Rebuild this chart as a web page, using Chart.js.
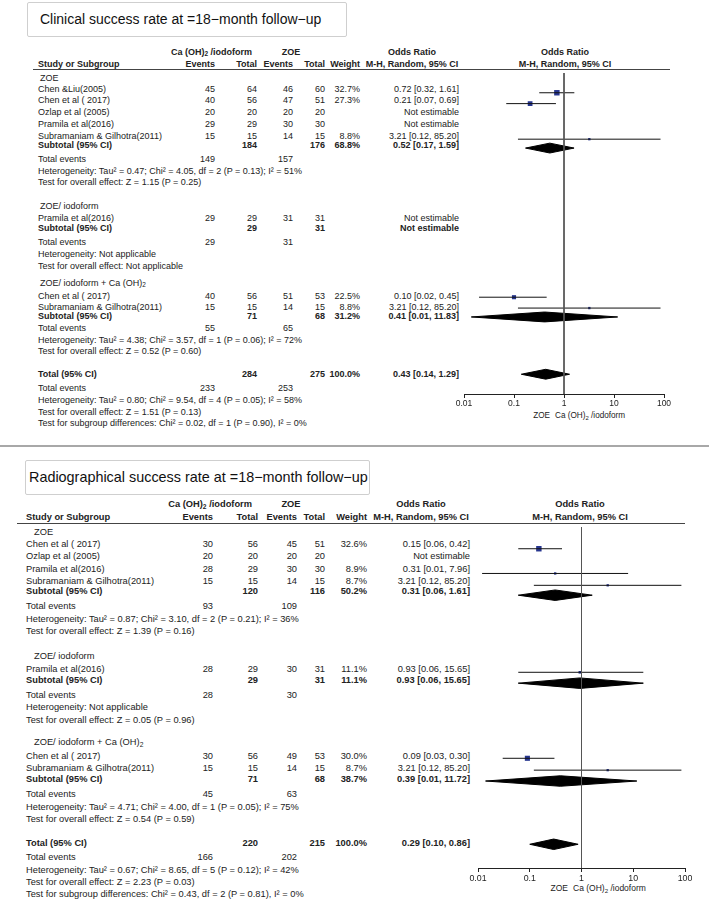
<!DOCTYPE html>
<html>
<head>
<meta charset="utf-8">
<script src="https://cdn.jsdelivr.net/npm/chart.js@4.4.1/dist/chart.umd.min.js"></script>
<style>
html, body { margin: 0; padding: 0; background: #fff; overflow: hidden; }
#page { position: relative; width: 709px; height: 903px; overflow: hidden; }
.t { position: absolute; white-space: nowrap; line-height: 1; color: #222; font-family: "Liberation Sans", Arial, sans-serif; }
.t sub { font-size: 0.72em; line-height: 0; vertical-align: -0.3em; }
.box { position: absolute; border: 1px solid #cfcfcf; border-radius: 2px; }
.rule { position: absolute; height: 0; border-top: 1px solid #444; }
canvas { position: absolute; }
</style>
</head>
<body>
<div id="page"></div>
<script>
// shared labels
const groupNames = ['ZOE', 'ZOE/ iodoform', 'ZOE/ iodoform + Ca (OH)<sub>2</sub>'];
const axisTicks = [0.01, 0.1, 1, 10, 100];

// Clinical success (top)
const clinTitle = 'Clinical success rate at =18\u2212month follow\u2212up';
const clinStudy = ['Chen &Liu(2005)', 'Chen et al ( 2017)', 'Ozlap et al (2005)', 'Pramila et al(2016)', 'Subramaniam & Gilhotra(2011)',
                   'Pramila et al(2016)', 'Chen et al ( 2017)', 'Subramaniam & Gilhotra(2011)'];
const clinGroup = [0, 0, 0, 0, 0, 1, 2, 2];
const clinEvE = [45, 40, 20, 29, 15, 29, 40, 15];
const clinTotE = [64, 56, 20, 29, 15, 29, 56, 15];
const clinEvC = [46, 47, 20, 30, 14, 31, 51, 14];
const clinTotC = [60, 51, 20, 30, 15, 31, 53, 15];
const clinWeight = [32.7, 27.3, null, null, 8.8, null, 22.5, 8.8];
const clinOR = [0.72, 0.21, null, null, 3.21, null, 0.10, 3.21];
const clinLow = [0.32, 0.07, null, null, 0.12, null, 0.02, 0.12];
const clinHigh = [1.61, 0.69, null, null, 85.20, null, 0.45, 85.20];
const clinSubTotE = [184, 29, 71];
const clinSubTotC = [176, 31, 68];
const clinSubWeight = [68.8, null, 31.2];
const clinSubOR = [0.52, null, 0.41];
const clinSubLow = [0.17, null, 0.014];
const clinSubHigh = [1.59, null, 11.83];
const clinSubEvE = [149, 29, 55];
const clinSubEvC = [157, 31, 65];
const clinSubHet = ['Tau\u00b2 = 0.47; Chi\u00b2 = 4.05, df = 2 (P = 0.13); I\u00b2 = 51%', 'Not applicable',
                    'Tau\u00b2 = 4.38; Chi\u00b2 = 3.57, df = 1 (P = 0.06); I\u00b2 = 72%'];
const clinSubZ = ['Z = 1.15 (P = 0.25)', 'Not applicable', 'Z = 0.52 (P = 0.60)'];
const clinAllTot = [284, 275];
const clinAllEv = [233, 253];
const clinAllOR = [0.43, 0.14, 1.29];
const clinAllHet = 'Tau\u00b2 = 0.80; Chi\u00b2 = 9.54, df = 4 (P = 0.05); I\u00b2 = 58%';
const clinAllZ = 'Z = 1.51 (P = 0.13)';
const clinDiff = 'Chi\u00b2 = 0.02, df = 1 (P = 0.90), I\u00b2 = 0%';

// Radiographical success (bottom)
const radTitle = 'Radiographical success rate at =18\u2212month follow\u2212up';
const radStudy = ['Chen et al ( 2017)', 'Ozlap et al (2005)', 'Pramila et al(2016)', 'Subramaniam & Gilhotra(2011)',
                  'Pramila et al(2016)', 'Chen et al ( 2017)', 'Subramaniam & Gilhotra(2011)'];
const radGroup = [0, 0, 0, 0, 1, 2, 2];
const radEvE = [30, 20, 28, 15, 28, 30, 15];
const radTotE = [56, 20, 29, 15, 29, 56, 15];
const radEvC = [45, 20, 30, 14, 30, 49, 14];
const radTotC = [51, 20, 30, 15, 31, 53, 15];
const radWeight = [32.6, null, 8.9, 8.7, 11.1, 30.0, 8.7];
const radOR = [0.15, null, 0.31, 3.21, 0.93, 0.09, 3.21];
const radLow = [0.06, null, 0.012, 0.12, 0.06, 0.03, 0.12];
const radHigh = [0.42, null, 7.96, 85.20, 15.65, 0.30, 85.20];
const radSubTotE = [120, 29, 71];
const radSubTotC = [116, 31, 68];
const radSubWeight = [50.2, 11.1, 38.7];
const radSubOR = [0.31, 0.93, 0.39];
const radSubLow = [0.06, 0.06, 0.014];
const radSubHigh = [1.61, 15.65, 11.72];
const radSubEvE = [93, 28, 45];
const radSubEvC = [109, 30, 63];
const radSubHet = ['Tau\u00b2 = 0.87; Chi\u00b2 = 3.10, df = 2 (P = 0.21); I\u00b2 = 36%', 'Not applicable',
                   'Tau\u00b2 = 4.71; Chi\u00b2 = 4.00, df = 1 (P = 0.05); I\u00b2 = 75%'];
const radSubZ = ['Z = 1.39 (P = 0.16)', 'Z = 0.05 (P = 0.96)', 'Z = 0.54 (P = 0.59)'];
const radAllTot = [220, 215];
const radAllEv = [166, 202];
const radAllOR = [0.29, 0.10, 0.86];
const radAllHet = 'Tau\u00b2 = 0.67; Chi\u00b2 = 8.65, df = 5 (P = 0.12); I\u00b2 = 42%';
const radAllZ = 'Z = 2.23 (P = 0.03)';
const radDiff = 'Chi\u00b2 = 0.43, df = 2 (P = 0.81), I\u00b2 = 0%';

// page positions of each panel (pixels)
const clinLayout = {
    fs: 9, titleFs: 14, box: [27, 2, 345, 35], titleX: 40, titleY: 18.5,
    nameX: 38, groupX: 40, evE: 215, totE: 257, evC: 293, totC: 325, wX: 360, orX: 459,
    hdrGroupE: 252, hdrGroupC: 291, orHdrX: 412, plotHdrX: 565,
    hdr1: 52, hdr2: 64, rule: [33, 670, 69],
    groupY: [78, 206, 283],
    studyY: [89, 100, 112, 124, 136, 218, 296, 307],
    subY: [145, 228, 316], evY: [159, 242, 328], hetY: [171, 254, 340], zY: [182, 266, 351],
    totY: 374, totEvY: 388, totHetY: 400, totZY: 412, diffY: 423,
    axisY: 394, axisLo: 464, axisHi: 664, sideY: 416, zeroX: 564, diamondH: 5
};
const radLayout = {
    fs: 9.3, titleFs: 14.4, box: [25, 460, 368, 493], titleX: 29, titleY: 477,
    nameX: 26, groupX: 34, evE: 213, totE: 258, evC: 297, totC: 325, wX: 367, orX: 470,
    hdrGroupE: 252, hdrGroupC: 291, orHdrX: 421, plotHdrX: 580,
    hdr1: 505, hdr2: 518, rule: [17, 685, 523],
    groupY: [533, 657, 743],
    studyY: [545, 557, 570, 582, 670, 757, 769],
    subY: [592, 681, 780], evY: [607, 696, 795], hetY: [620, 708, 808], zY: [632, 721, 820],
    totY: 844, totEvY: 858, totHetY: 871, totZY: 883, diffY: 895,
    axisY: 868, axisLo: 478, axisHi: 685, sideY: 888, zeroX: 582, diamondH: 5.3
};

const page = document.getElementById('page');
const PAD = 24;

function put(html, x, y, o) {
    o = o || {};
    const d = document.createElement('div');
    d.className = 't';
    d.innerHTML = html;
    d.style.left = x + 'px';
    d.style.top = y + 'px';
    d.style.fontSize = (o.fs || 9) + 'px';
    if (o.bold) d.style.fontWeight = 'bold';
    if (o.color) d.style.color = o.color;
    const tx = o.align === 'right' ? '-100%' : o.align === 'center' ? '-50%' : '0';
    d.style.transform = 'translate(' + tx + ', -50%)';
    page.appendChild(d);
}

function orText(or, lo, hi) {
    if (or == null) return 'Not estimable';
    return or.toFixed(2) + ' [' + lo.toFixed(2) + ', ' + hi.toFixed(2) + ']';
}
function wText(w) { return w == null ? '' : w.toFixed(1) + '%'; }

function drawTable(d, L) {
    const fs = L.fs;
    const R = { fs: fs, align: 'right' };
    const RB = { fs: fs, align: 'right', bold: true };

    // title box
    const b = document.createElement('div');
    b.className = 'box';
    b.style.left = L.box[0] + 'px';
    b.style.top = L.box[1] + 'px';
    b.style.width = (L.box[2] - L.box[0]) + 'px';
    b.style.height = (L.box[3] - L.box[1]) + 'px';
    page.appendChild(b);
    put(d.title, L.titleX, L.titleY, { fs: L.titleFs, color: '#111' });

    // headers
    put('Ca (OH)<sub>2</sub> /iodoform', L.hdrGroupE, L.hdr1, RB);
    put('ZOE', L.hdrGroupC, L.hdr1, { fs: fs, align: 'center', bold: true });
    put('Odds Ratio', L.orHdrX, L.hdr1, { fs: fs, align: 'center', bold: true });
    put('Odds Ratio', L.plotHdrX, L.hdr1, { fs: fs, align: 'center', bold: true });
    put('Study or Subgroup', L.nameX, L.hdr2, { fs: fs, bold: true });
    put('Events', L.evE, L.hdr2, RB);
    put('Total', L.totE, L.hdr2, RB);
    put('Events', L.evC, L.hdr2, RB);
    put('Total', L.totC, L.hdr2, RB);
    put('Weight', L.wX, L.hdr2, RB);
    put('M-H, Random, 95% CI', L.orHdrX, L.hdr2, { fs: fs, align: 'center', bold: true });
    put('M-H, Random, 95% CI', L.plotHdrX, L.hdr2, { fs: fs, align: 'center', bold: true });
    const rl = document.createElement('div');
    rl.className = 'rule';
    rl.style.left = L.rule[0] + 'px';
    rl.style.top = L.rule[2] + 'px';
    rl.style.width = (L.rule[1] - L.rule[0]) + 'px';
    page.appendChild(rl);

    for (let g = 0; g < 3; g++) {
        put(groupNames[g], L.groupX, L.groupY[g], { fs: fs });
        d.study.forEach((name, i) => {
            if (d.group[i] !== g) return;
            const y = L.studyY[i];
            put(name, L.nameX, y, { fs: fs });
            put(d.evE[i], L.evE, y, R);
            put(d.totE[i], L.totE, y, R);
            put(d.evC[i], L.evC, y, R);
            put(d.totC[i], L.totC, y, R);
            put(wText(d.weight[i]), L.wX, y, R);
            put(orText(d.or[i], d.low[i], d.high[i]), L.orX, y, R);
        });
        const sy = L.subY[g];
        put('Subtotal (95% CI)', L.nameX, sy, { fs: fs, bold: true });
        put(d.subTotE[g], L.totE, sy, RB);
        put(d.subTotC[g], L.totC, sy, RB);
        put(wText(d.subWeight[g]), L.wX, sy, RB);
        put(orText(d.subOR[g], d.subLow[g], d.subHigh[g]), L.orX, sy, RB);
        put('Total events', L.nameX, L.evY[g], { fs: fs });
        put(d.subEvE[g], L.evE, L.evY[g], R);
        put(d.subEvC[g], L.evC, L.evY[g], R);
        put('Heterogeneity: ' + d.subHet[g], L.nameX, L.hetY[g], { fs: fs });
        put('Test for overall effect: ' + d.subZ[g], L.nameX, L.zY[g], { fs: fs });
    }

    put('Total (95% CI)', L.nameX, L.totY, { fs: fs, bold: true });
    put(d.allTot[0], L.totE, L.totY, RB);
    put(d.allTot[1], L.totC, L.totY, RB);
    put('100.0%', L.wX, L.totY, RB);
    put(orText(d.allOR[0], d.allOR[1], d.allOR[2]), L.orX, L.totY, RB);
    put('Total events', L.nameX, L.totEvY, { fs: fs });
    put(d.allEv[0], L.evE, L.totEvY, R);
    put(d.allEv[1], L.evC, L.totEvY, R);
    put('Heterogeneity: ' + d.allHet, L.nameX, L.totHetY, { fs: fs });
    put('Test for overall effect: ' + d.allZ, L.nameX, L.totZY, { fs: fs });
    put('Test for subgroup differences: ' + d.diff, L.nameX, L.diffY, { fs: fs });

    // favours labels under the axis
    put('ZOE', L.zeroX - 14, L.sideY, { fs: fs - 0.8, align: 'right' });
    put('Ca (OH)<sub>2</sub> /iodoform', L.zeroX - 9, L.sideY, { fs: fs - 0.8 });
}

function diamond(or, lo, hi, y, h) {
    return {
        data: [{ x: lo, y: y }, { x: or, y: y - h }, { x: hi, y: y }, { x: or, y: y + h }, { x: lo, y: y }],
        showLine: true, fill: 'shape', backgroundColor: '#000', borderColor: '#000', borderWidth: 1,
        pointRadius: 0, tension: 0
    };
}

function drawForest(d, L) {
    const top = L.rule[2];
    const canvas = document.createElement('canvas');
    const w = L.axisHi - L.axisLo + 2 * PAD;
    const h = L.axisY - top + 20;
    canvas.width = w;
    canvas.height = h;
    canvas.style.left = (L.axisLo - PAD) + 'px';
    canvas.style.top = top + 'px';
    page.appendChild(canvas);

    const ds = [];
    // line of no effect
    ds.push({ data: [{ x: 1, y: top }, { x: 1, y: L.axisY }], showLine: true, fill: false,
              borderColor: '#555', borderWidth: 1, pointRadius: 0 });
    // study CIs
    const sqData = [], sqRadius = [];
    d.or.forEach((v, i) => {
        if (v == null) return;
        const y = L.studyY[i];
        ds.push({ data: [{ x: d.low[i], y: y }, { x: d.high[i], y: y }], showLine: true, fill: false,
                  borderColor: '#111', borderWidth: 1, pointRadius: 0 });
        sqData.push({ x: v, y: y });
        // square side grows with study weight
        sqRadius.push((1.2 + 0.13 * d.weight[i]) / Math.SQRT2);
    });
    ds.push({ data: sqData, pointStyle: 'rect', pointRadius: sqRadius, pointBorderWidth: 0,
              backgroundColor: '#26358f', borderColor: '#26358f', fill: false });
    // subgroup and overall diamonds
    d.subOR.forEach((v, g) => {
        if (v == null) return;
        ds.push(diamond(v, d.subLow[g], d.subHigh[g], L.subY[g], L.diamondH));
    });
    ds.push(diamond(d.allOR[0], d.allOR[1], d.allOR[2], L.totY, L.diamondH));

    new Chart(canvas, {
        type: 'scatter',
        data: { datasets: ds },
        options: {
            responsive: false,
            animation: false,
            events: [],
            layout: { padding: { left: PAD, right: PAD, top: 0, bottom: 0 } },
            plugins: { legend: { display: false }, tooltip: { enabled: false } },
            scales: {
                x: {
                    type: 'logarithmic', min: 0.01, max: 100,
                    afterBuildTicks: s => { s.ticks = axisTicks.map(v => ({ value: v })); },
                    afterFit: s => { s.height = 20; },
                    ticks: { callback: v => String(v), autoSkip: false, maxRotation: 0,
                             color: '#222', font: { size: L.fs - 0.5 }, padding: 1 },
                    grid: { drawOnChartArea: false, drawTicks: true, tickLength: 4, color: '#222' },
                    border: { display: true, color: '#222', width: 1 }
                },
                y: { type: 'linear', display: false, min: top, max: L.axisY, reverse: true }
            }
        }
    });
}

Chart.defaults.font.family = '"Liberation Sans", Arial, sans-serif';

const clinical = {
    title: clinTitle, study: clinStudy, group: clinGroup, evE: clinEvE, totE: clinTotE, evC: clinEvC, totC: clinTotC,
    weight: clinWeight, or: clinOR, low: clinLow, high: clinHigh,
    subTotE: clinSubTotE, subTotC: clinSubTotC, subWeight: clinSubWeight, subOR: clinSubOR, subLow: clinSubLow,
    subHigh: clinSubHigh, subEvE: clinSubEvE, subEvC: clinSubEvC, subHet: clinSubHet, subZ: clinSubZ,
    allTot: clinAllTot, allEv: clinAllEv, allOR: clinAllOR, allHet: clinAllHet, allZ: clinAllZ, diff: clinDiff
};
const radiographic = {
    title: radTitle, study: radStudy, group: radGroup, evE: radEvE, totE: radTotE, evC: radEvC, totC: radTotC,
    weight: radWeight, or: radOR, low: radLow, high: radHigh,
    subTotE: radSubTotE, subTotC: radSubTotC, subWeight: radSubWeight, subOR: radSubOR, subLow: radSubLow,
    subHigh: radSubHigh, subEvE: radSubEvE, subEvC: radSubEvC, subHet: radSubHet, subZ: radSubZ,
    allTot: radAllTot, allEv: radAllEv, allOR: radAllOR, allHet: radAllHet, allZ: radAllZ, diff: radDiff
};

drawTable(clinical, clinLayout);
drawForest(clinical, clinLayout);

// grey separator between the two panels
const sep = document.createElement('div');
sep.style.cssText = 'position:absolute;left:0;top:445px;width:709px;height:2px;background:#a8a8a8;';
page.appendChild(sep);

drawTable(radiographic, radLayout);
drawForest(radiographic, radLayout);
</script>
</body>
</html>
